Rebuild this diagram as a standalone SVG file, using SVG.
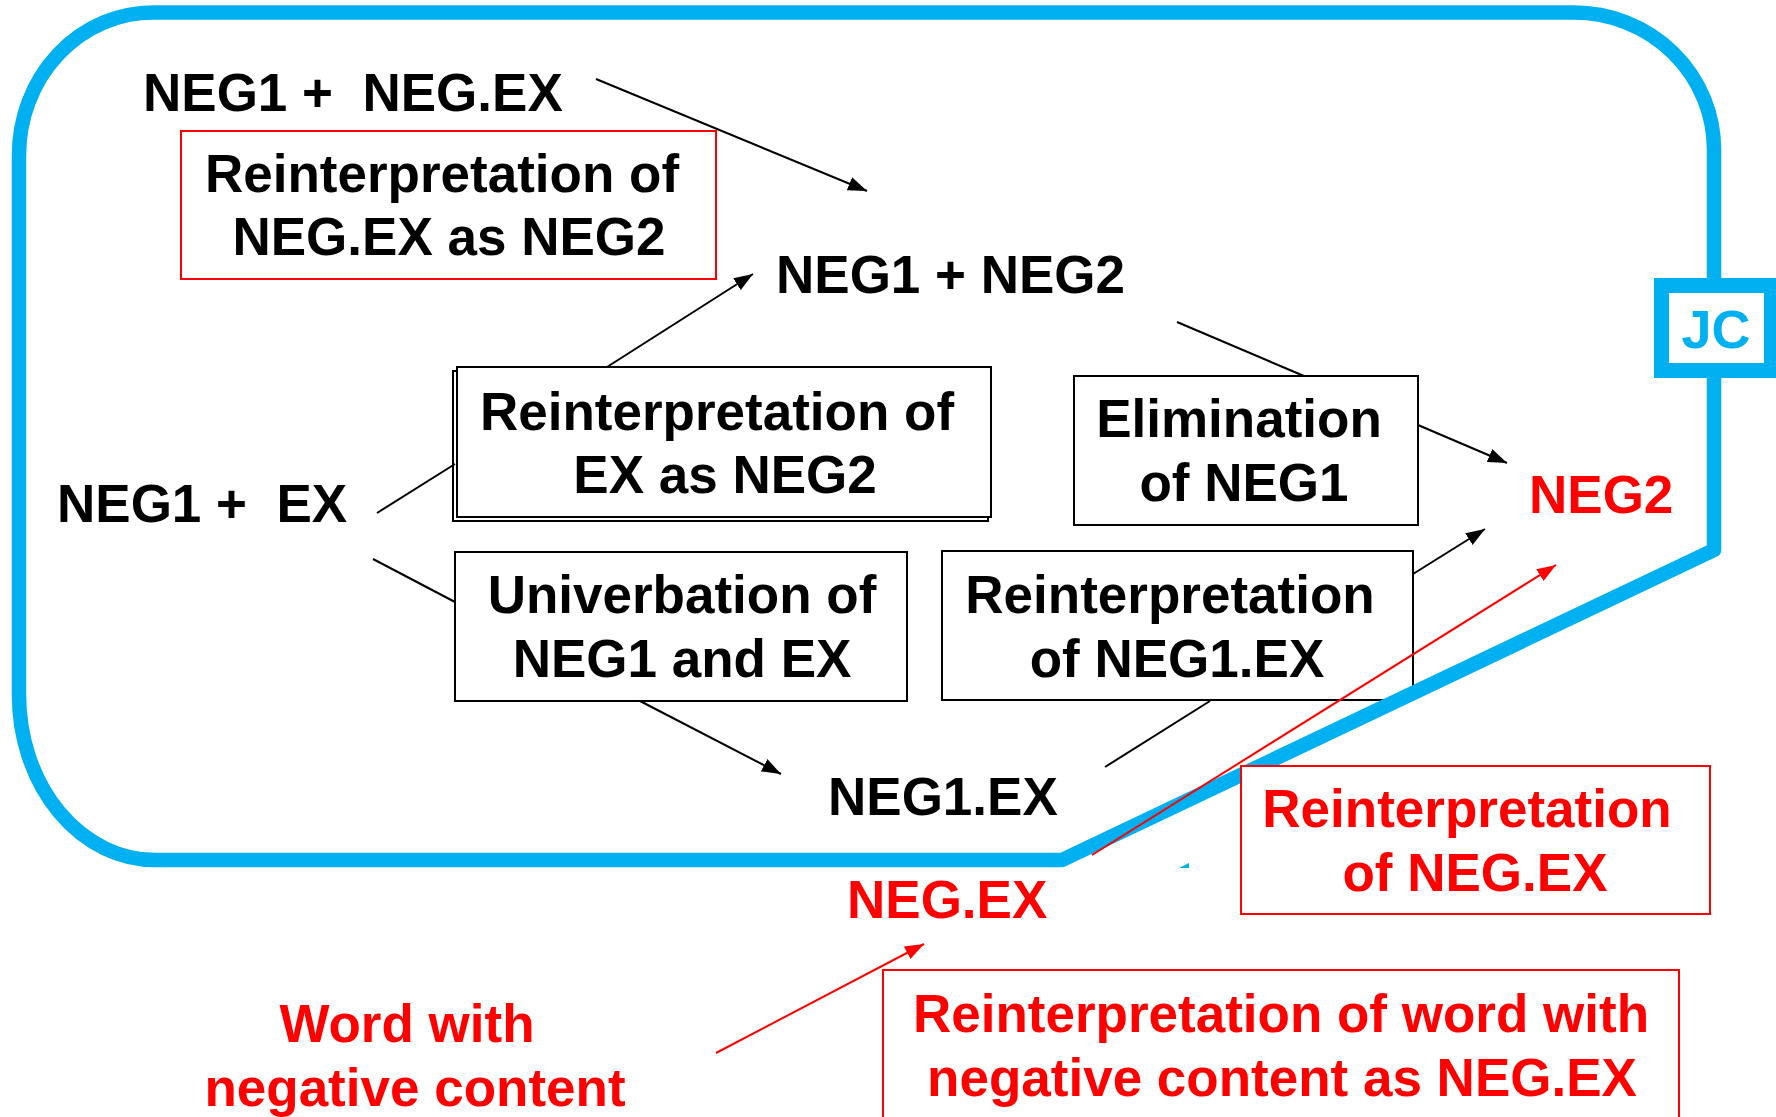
<svg xmlns="http://www.w3.org/2000/svg" width="1776" height="1117" viewBox="0 0 1776 1117">
<defs>
<style>
text{font-family:"Liberation Sans",Arial,Helvetica,sans-serif;font-weight:bold;font-size:53px;white-space:pre}
.blk{fill:#000}
.red{fill:#FF0000}
.mid{text-anchor:middle}
.box{fill:#fff;stroke:#000;stroke-width:2}
.rbox{fill:#fff;stroke:#FF0000;stroke-width:2}
.con{stroke:#000;stroke-width:2;fill:none}
.rcon{stroke:#FF0000;stroke-width:2;fill:none}
</style>
<marker id="ah" markerUnits="userSpaceOnUse" markerWidth="20" markerHeight="14" refX="19" refY="7" orient="auto"><path d="M0,0 L19,7 L0,14 z" fill="#000"/></marker>
<marker id="ahr" markerUnits="userSpaceOnUse" markerWidth="20" markerHeight="14" refX="19" refY="7" orient="auto"><path d="M0,0 L19,7 L0,14 z" fill="#FF0000"/></marker>
</defs>
<rect width="1776" height="1117" fill="#fff"/>

<g id="n-neg1-negex">
<text x="143" y="111" class="blk">NEG1 +  NEG.EX</text>
</g>

<g id="n-reint-negex-neg2">
<rect class="rbox" x="181" y="131" width="535" height="148"/>
<text x="442" y="192" class="mid blk">Reinterpretation of</text>
<text x="449" y="255" class="mid blk">NEG.EX as NEG2</text>
</g>

<g id="n-neg1-neg2">
<text x="776" y="293" class="blk">NEG1 + NEG2</text>
</g>

<g id="n-reint-ex-neg2">
<rect class="box" x="453" y="371" width="535" height="150"/>
<rect class="box" x="457" y="367" width="534" height="150"/>
<text x="717" y="430" class="mid blk">Reinterpretation of</text>
<text x="725" y="493" class="mid blk">EX as NEG2</text>
</g>

<g id="n-neg1-ex">
<text x="57" y="522" class="blk">NEG1 +  EX</text>
</g>

<g id="n-univerbation">
<rect class="box" x="455" y="552" width="452" height="149"/>
<text x="682" y="613" class="mid blk">Univerbation of</text>
<text x="682" y="677" class="mid blk">NEG1 and EX</text>
</g>

<g id="n-elimination">
<rect class="box" x="1074" y="376" width="344" height="149"/>
<text x="1239" y="437" class="mid blk">Elimination</text>
<text x="1244" y="501" class="mid blk">of NEG1</text>
</g>

<g id="n-reint-neg1ex">
<rect class="box" x="942" y="551" width="471" height="149"/>
<text x="1170" y="613" class="mid blk">Reinterpretation</text>
<text x="1177" y="677" class="mid blk">of NEG1.EX</text>
</g>

<g id="n-neg1ex">
<text x="828" y="815" class="blk">NEG1.EX</text>
</g>

<g id="n-neg2">
<text x="1529" y="513" class="red">NEG2</text>
</g>

<g id="n-negex">
<text x="847" y="918" class="red">NEG.EX</text>
</g>

<g id="n-word">
<text x="407" y="1042" class="mid red">Word with</text>
<text x="415" y="1106" class="mid red">negative content</text>
</g>

<g id="n-reint-word">
<rect class="rbox" x="883" y="970" width="796" height="160"/>
<text x="1281" y="1032" class="mid red">Reinterpretation of word with</text>
<text x="1282" y="1096" class="mid red">negative content as NEG.EX</text>
</g>

<g id="border">
<path d="M153,12.5 L1574,12.5 A140,137 0 0 1 1714,150 L1714,550 L1062,860 L155,860 A136,165 0 0 1 19,695 L19,155 A134,142.5 0 0 1 153,12.5 Z" fill="none" stroke="#00B0F0" stroke-width="14.5" stroke-linejoin="round"/>
<polygon points="1179,868 1189,863 1189,868" fill="#00B0F0"/>
</g>

<g id="jc">
<rect x="1661.5" y="285.5" width="110" height="85" fill="#fff" stroke="#00B0F0" stroke-width="15"/>
<text x="1716" y="348" class="mid" fill="#00B0F0" style="font-size:54px">JC</text>
</g>

<g id="connectors">
<line class="con" x1="596" y1="79" x2="867" y2="191" marker-end="url(#ah)"/>
<line class="con" x1="607" y1="367" x2="753" y2="274" marker-end="url(#ah)"/>
<line class="con" x1="377" y1="513" x2="455" y2="464"/>
<line class="con" x1="373" y1="559" x2="455" y2="602"/>
<line class="con" x1="640" y1="701" x2="781" y2="774" marker-end="url(#ah)"/>
<line class="con" x1="1105" y1="767" x2="1210" y2="701"/>
<line class="con" x1="1413" y1="574" x2="1485" y2="529" marker-end="url(#ah)"/>
<line class="con" x1="1177" y1="322" x2="1304" y2="376"/>
<line class="con" x1="1418" y1="425" x2="1507" y2="463" marker-end="url(#ah)"/>
<line class="rcon" x1="1092" y1="855" x2="1556" y2="565" marker-end="url(#ahr)"/>
<line class="rcon" x1="716" y1="1053" x2="924" y2="944" marker-end="url(#ahr)"/>
</g>

<g id="n-reint-negex">
<rect class="rbox" x="1241" y="766" width="469" height="148"/>
<text x="1467" y="827" class="mid red">Reinterpretation</text>
<text x="1475" y="891" class="mid red">of NEG.EX</text>
</g>
</svg>
